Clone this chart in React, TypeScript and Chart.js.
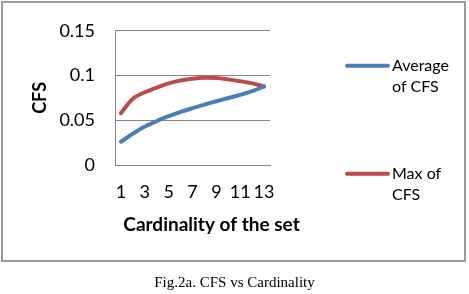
import React, { useEffect, useRef } from "react";
import { Chart, registerables } from "chart.js";

Chart.register(...registerables);

const categories = ["1", "2", "3", "4", "5", "6", "7", "8", "9", "10", "11", "12", "13"];
const averageCFS = [0.026, 0.035, 0.043, 0.049, 0.0547, 0.0593, 0.0635, 0.0675, 0.0713, 0.0749, 0.0784, 0.0825, 0.0878];
const maxCFS = [0.058, 0.074, 0.0813, 0.0866, 0.0912, 0.0944, 0.0965, 0.0976, 0.0973, 0.0957, 0.0937, 0.0912, 0.0878];
const seriesLabels = ["Average of CFS", "Max of CFS"];
const seriesColors = ["#4A7EBB", "#BE4B48"];
const xTitle = "Cardinality of the set";
const yTitle = "CFS";
const caption = "Fig.2a. CFS vs Cardinality";

const FONT = "Lato, 'Noto Sans', sans-serif";
const GRID = "#868686";

function wrap(ctx: CanvasRenderingContext2D, text: string, maxW: number): string[] {
  const words = text.split(" ");
  const lines: string[] = [];
  let cur = "";
  for (const w of words) {
    const t = cur ? cur + " " + w : w;
    if (ctx.measureText(t).width > maxW && cur) {
      lines.push(cur);
      cur = w;
    } else cur = t;
  }
  if (cur) lines.push(cur);
  return lines;
}

const customDraw = {
  id: "customDraw",
  afterDraw(chart: any) {
    const { ctx, chartArea } = chart;
    ctx.save();
    // x axis title
    ctx.font = `bold 19px ${FONT}`;
    ctx.fillStyle = "#000";
    ctx.textAlign = "center";
    ctx.textBaseline = "middle";
    ctx.fillText(xTitle, (chartArea.left + chartArea.right) / 2 + 19, chartArea.bottom + 60);
    // legend
    ctx.font = `16px ${FONT}`;
    ctx.textAlign = "left";
    const lx = chartArea.right + 77;
    const ys = [chartArea.top + 35, chartArea.top + 143];
    chart.data.datasets.forEach((ds: any, i: number) => {
      const y = ys[i];
      ctx.strokeStyle = ds.borderColor;
      ctx.lineWidth = 4;
      ctx.lineCap = "round";
      ctx.beginPath();
      ctx.moveTo(lx, y);
      ctx.lineTo(lx + 41, y);
      ctx.stroke();
      const lines = wrap(ctx, ds.label, 62);
      lines.forEach((ln, j) => ctx.fillText(ln, lx + 45, y + j * 21));
    });
    ctx.restore();
  },
};

export default function App() {
  const ref = useRef<HTMLCanvasElement>(null);
  useEffect(() => {
    document.body.style.margin = "0";
    const chart = new Chart(ref.current!, {
      type: "line",
      data: {
        labels: categories,
        datasets: [
          { label: seriesLabels[0], data: averageCFS, borderColor: seriesColors[0], backgroundColor: seriesColors[0], borderWidth: 4, pointRadius: 0, tension: 0.4, borderCapStyle: "round" },
          { label: seriesLabels[1], data: maxCFS, borderColor: seriesColors[1], backgroundColor: seriesColors[1], borderWidth: 4, pointRadius: 0, tension: 0.4, borderCapStyle: "round" },
        ],
      },
      options: {
        animation: false,
        responsive: false,
        layout: { padding: { left: 0, top: 23, right: 199, bottom: 0 } },
        plugins: { legend: { display: false }, tooltip: { enabled: false } },
        scales: {
          x: {
            type: "category",
            offset: true,
            grid: { display: false, drawTicks: false },
            border: { display: true, color: GRID, width: 1 },
            ticks: {
              color: "#000",
              font: { family: FONT, size: 18 },
              padding: 16,
              maxRotation: 0,
              autoSkip: false,
              callback: (v: any, i: number) => (i % 2 === 0 ? categories[i] : ""),
            },
            afterFit: (s: any) => { s.height = 97; },
          },
          y: {
            min: 0,
            max: 0.15,
            ticks: {
              stepSize: 0.05,
              color: "#000",
              font: { family: FONT, size: 18 },
              padding: 20,
              callback: (v: any) => String(Number(Number(v).toFixed(2))),
            },
            grid: { color: GRID, drawTicks: false },
            border: { display: true, color: GRID, width: 1 },
            title: { display: true, text: yTitle, color: "#000", font: { family: FONT, size: 18, weight: "bold" }, padding: { top: 29, bottom: 0 } },
            afterFit: (s: any) => { s.width = 115; },
          },
        },
      },
      plugins: [customDraw],
    } as any);
    return () => chart.destroy();
  }, []);
  return (
    <div style={{ position: "relative", width: 469, height: 294, background: "#fff", overflow: "hidden" }}>
      <canvas ref={ref} width={469} height={262} style={{ position: "absolute", left: 0, top: 0, width: 469, height: 262 }} />
      <div style={{ position: "absolute", left: 1, top: 1, width: 465, height: 261, boxSizing: "border-box", border: "2px solid #9a9a9a" }} />
      <div style={{ position: "absolute", left: 0, top: 274, width: 469, textAlign: "center", fontFamily: "'Liberation Serif', 'Times New Roman', serif", fontSize: 15, color: "#000" }}>{caption}</div>
    </div>
  );
}
